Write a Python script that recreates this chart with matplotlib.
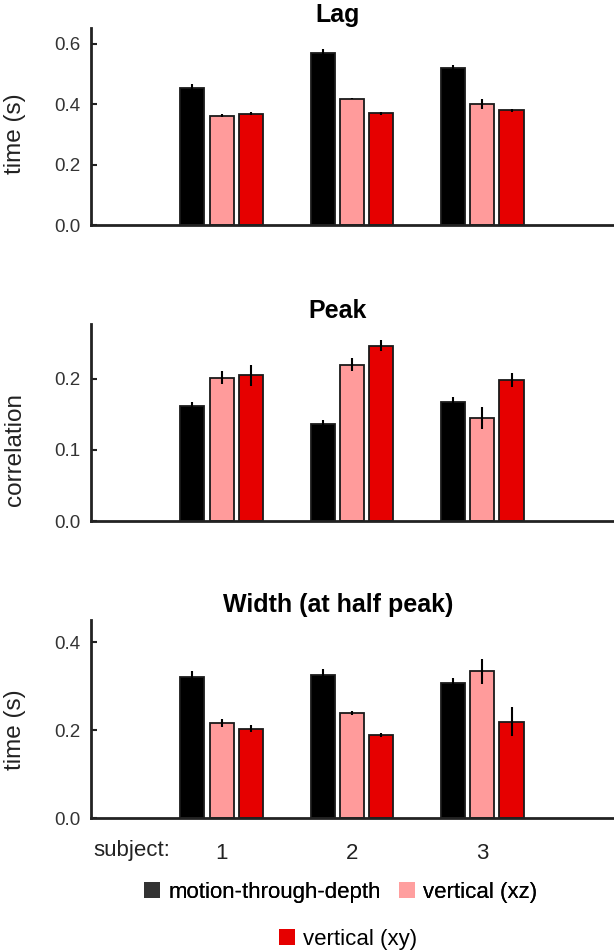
import matplotlib
matplotlib.use("Agg")
import matplotlib.pyplot as plt
from matplotlib.patches import Patch
import numpy as np

plt.rcParams['font.family'] = ['Liberation Sans', 'DejaVu Sans']

subjects = ["1", "2", "3"]
series = ["motion-through-depth", "vertical (xz)", "vertical (xy)"]
colors = ["#000000", "#FF9B9B", "#E60000"]
legend_colors = ["#333333", "#FF9F9F", "#E60000"]

lag_vals = [[0.455, 0.569, 0.519], [0.362, 0.419, 0.401], [0.369, 0.370, 0.380]]
lag_err = [[0.013, 0.013, 0.013], [0.005, 0.003, 0.015], [0.004, 0.005, 0.005]]

peak_vals = [[0.162, 0.137, 0.168], [0.202, 0.220, 0.145], [0.205, 0.247, 0.198]]
peak_err = [[0.005, 0.005, 0.007], [0.009, 0.009, 0.015], [0.015, 0.008, 0.010]]

width_vals = [[0.322, 0.326, 0.308], [0.216, 0.240, 0.334], [0.204, 0.190, 0.220]]
width_err = [[0.012, 0.013, 0.011], [0.009, 0.004, 0.029], [0.008, 0.004, 0.033]]

panels = [
    ("Lag", "time (s)", lag_vals, lag_err, [0.0, 0.2, 0.4, 0.6], 0.653, 0.464),
    ("Peak", "correlation", peak_vals, peak_err, [0.0, 0.1, 0.2], 0.277, 0.361),
    ("Width (at half peak)", "time (s)", width_vals, width_err, [0.0, 0.2, 0.4], 0.451, 0.445),
]

W, H = 614, 952
fig = plt.figure(figsize=(W / 100, H / 100), dpi=100)

# axes boxes in pixels: (left, top, bottom)
boxes = [(91.2, 28, 225), (91.2, 324.3, 521), (91.2, 620, 818.3)]
title_y = [15, 311, 605]

x = np.arange(1, len(subjects) + 1)
offsets = [-0.224, 0.0, 0.224]
bw = 0.185

for i, (title, ylab, vals, errs, yt, ytop, ylabpos) in enumerate(panels):
    l, t, b = boxes[i]
    ax = fig.add_axes([l / W, 1 - b / H, (W - l) / W, (b - t) / H])
    for k in range(3):
        ax.bar(x + offsets[k], vals[k], bw, color=colors[k], edgecolor="#1a1a1a",
               linewidth=1.3, yerr=errs[k],
               error_kw=dict(elinewidth=1.5, ecolor="black", capsize=0), zorder=2)
    ax.set_xlim(0, 4.01)
    ax.set_ylim(0, ytop)
    ax.set_yticks(yt)
    ax.set_yticklabels([f"{v:.1f}" for v in yt])
    for s in ["top", "right"]:
        ax.spines[s].set_visible(False)
    for s in ["left", "bottom"]:
        ax.spines[s].set_linewidth(2)
        ax.spines[s].set_color("#222222")
    ax.tick_params(axis="y", direction="in", length=4.5, width=1.5, color="#222222",
                   labelsize=13.5, labelcolor="#333333", pad=7.5)
    ax.set_ylabel(ylab, fontsize=17.5, color="#222222", va="center", ha="center")
    ax.yaxis.set_label_coords(-0.146, ylabpos)
    if i < 2:
        ax.set_xticks([])
    else:
        ax.set_xticks(x)
        ax.set_xticklabels(subjects)
        ax.tick_params(axis="x", length=0, labelsize=16, labelcolor="#222222", pad=17.5)
    fig.text(338 / W, 1 - title_y[i] / H, title, fontsize=18, fontweight="bold",
             ha="center", va="center")

fig.text(131.8 / W, 1 - 850.7 / H, "subject:", fontsize=16, color="#222222",
         ha="center", va="center")

handles = [Patch(facecolor=c, edgecolor="none") for c in legend_colors]
leg1 = fig.legend(handles[:2], series[:2], loc="center", bbox_to_anchor=(340.8 / W, 1 - 892.3 / H),
                  ncol=2, frameon=False, fontsize=16, handlelength=0.72, handleheight=0.72,
                  handletextpad=0.38, columnspacing=0.81, borderpad=0, borderaxespad=0)
fig.add_artist(leg1)
fig.legend(handles[2:], series[2:], loc="center", bbox_to_anchor=(348 / W, 1 - 939.3 / H),
           ncol=1, frameon=False, fontsize=16, handlelength=0.72, handleheight=0.72,
           handletextpad=0.38, borderpad=0, borderaxespad=0)

fig.savefig("out.png", dpi=100)
